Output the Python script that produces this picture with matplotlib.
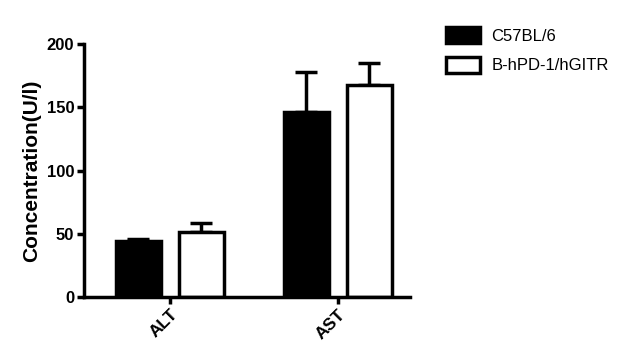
import numpy as np
import matplotlib
matplotlib.use('Agg')
import matplotlib.pyplot as plt
from matplotlib.patches import Patch

plt.rcParams['font.family'] = ['Liberation Sans', 'DejaVu Sans']

categories = ['ALT', 'AST']
groups = ['C57BL/6', 'B-hPD-1/hGITR']
c57_mean = [44.0, 146.5]
c57_err = [1.5, 31.5]
hgitr_mean = [51.0, 167.5]
hgitr_err = [7.5, 17.5]
colors = ['black', 'white']

fig = plt.figure(figsize=(6.44, 3.54), dpi=100)
ax = fig.add_axes([0.1304, 0.161, 0.5062, 0.7147])

x = np.arange(len(categories))
width = 0.268
offset = 0.1875
means = [c57_mean, hgitr_mean]
errs = [c57_err, hgitr_err]
for i, (m, e) in enumerate(zip(means, errs)):
    pos = x + (i * 2 - 1) * offset
    ax.bar(pos, m, width, color=colors[i], edgecolor='black', linewidth=2.5, zorder=2)
    ax.errorbar(pos, m, yerr=[np.zeros(len(e)), e], fmt='none', ecolor='black',
                elinewidth=2.5, capsize=8, capthick=2.5, zorder=1)

ax.set_xlim(-0.512, 1.43)
ax.set_ylim(0, 200)
ax.set_yticks([0, 50, 100, 150, 200])
ax.set_xticks(x)
ax.set_xticklabels(categories, rotation=45, ha='right', rotation_mode='anchor',
                   fontweight='bold', fontsize=12.5)
for lab in ax.get_yticklabels():
    lab.set_fontweight('bold')
    lab.set_fontsize(12)
ax.set_ylabel('Concentration(U/l)', fontweight='bold', fontsize=15, labelpad=4)
for s in ['top', 'right']:
    ax.spines[s].set_visible(False)
for s in ['left', 'bottom']:
    ax.spines[s].set_linewidth(2.5)
ax.tick_params(width=2.5, length=5, pad=2)

handles = [Patch(facecolor=colors[i], edgecolor='black', linewidth=2.5) for i in range(2)]
fig.legend(handles, groups, loc='upper left', bbox_to_anchor=(0.67, 0.965),
           frameon=False, fontsize=12, handlelength=2.0, handleheight=1.1,
           handletextpad=0.7, labelspacing=0.75)

fig.savefig('out.png', dpi=100)
